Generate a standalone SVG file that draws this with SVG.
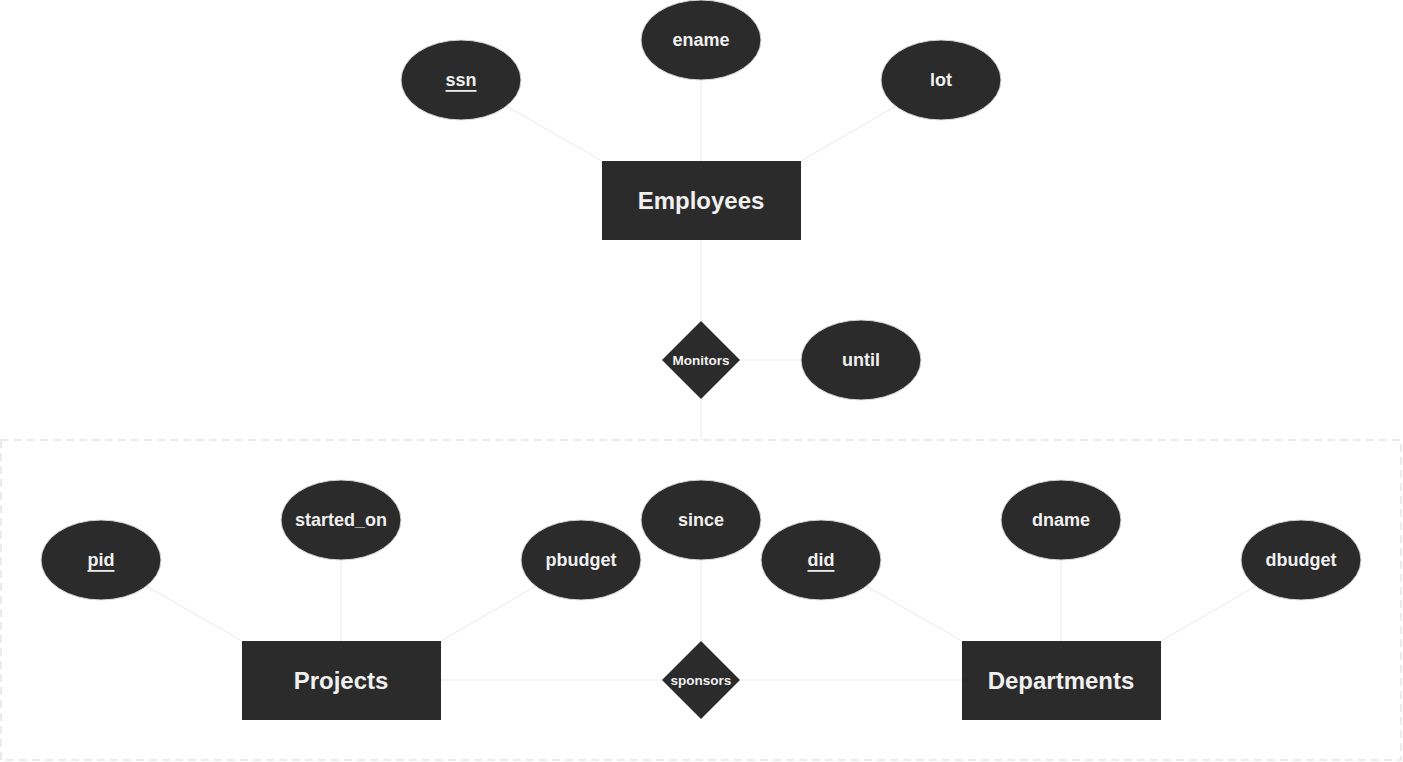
<svg xmlns="http://www.w3.org/2000/svg" width="1403" height="762" viewBox="0 0 1403 762">
<style>
.bg{fill:#ffffff}
.edge{stroke:#e9e9e9;stroke-width:1;fill:none}
.agg{fill:none;stroke:#ebebeb;stroke-width:2;stroke-dasharray:8 5}
.ent rect{fill:#2b2b2b}
.att ellipse{fill:#2b2b2b;stroke:#d6d6d6;stroke-width:1}
.rel polygon{fill:#2b2b2b}
text{font-family:"Liberation Sans",Arial,sans-serif;font-weight:bold;fill:#f0f0f0;text-anchor:middle;dominant-baseline:central}
.ent text{font-size:24px}
.att text{font-size:18px}
.rel text{font-size:13.5px}
.key{text-decoration:underline}
</style>
<rect class="bg" x="0" y="0" width="1403" height="762"/>
<rect class="agg" x="1" y="440" width="1400" height="320"/>
<g id="connectors">
<line class="edge" x1="461" y1="80" x2="602" y2="161"/>
<line class="edge" x1="701" y1="40" x2="701" y2="161"/>
<line class="edge" x1="941" y1="80" x2="801" y2="161"/>
<line class="edge" x1="701" y1="240" x2="701" y2="322"/>
<line class="edge" x1="701" y1="398" x2="701" y2="440"/>
<line class="edge" x1="740" y1="360" x2="861" y2="360"/>
<line class="edge" x1="101" y1="560" x2="242" y2="641"/>
<line class="edge" x1="341" y1="520" x2="341" y2="641"/>
<line class="edge" x1="581" y1="560" x2="441" y2="641"/>
<line class="edge" x1="701" y1="520" x2="701" y2="642"/>
<line class="edge" x1="441" y1="680" x2="962" y2="680"/>
<line class="edge" x1="821" y1="560" x2="962" y2="641"/>
<line class="edge" x1="1061" y1="520" x2="1061" y2="641"/>
<line class="edge" x1="1301" y1="560" x2="1161" y2="641"/>
</g>
<g id="ssn" class="att"><ellipse cx="461" cy="80" rx="60" ry="40"/><text x="461" y="80" class="key">ssn</text></g>
<g id="ename" class="att"><ellipse cx="701" cy="40" rx="60" ry="40"/><text x="701" y="40">ename</text></g>
<g id="lot" class="att"><ellipse cx="941" cy="80" rx="60" ry="40"/><text x="941" y="80">lot</text></g>
<g id="employees" class="ent"><rect x="602" y="161" width="199" height="79"/><text x="701" y="200">Employees</text></g>
<g id="monitors" class="rel"><polygon points="701,321 740,360 701,399 662,360"/><text x="701" y="360">Monitors</text></g>
<g id="until" class="att"><ellipse cx="861" cy="360" rx="60" ry="40"/><text x="861" y="360">until</text></g>
<g id="pid" class="att"><ellipse cx="101" cy="560" rx="60" ry="40"/><text x="101" y="560" class="key">pid</text></g>
<g id="started_on" class="att"><ellipse cx="341" cy="520" rx="60" ry="40"/><text x="341" y="520">started_on</text></g>
<g id="pbudget" class="att"><ellipse cx="581" cy="560" rx="60" ry="40"/><text x="581" y="560">pbudget</text></g>
<g id="since" class="att"><ellipse cx="701" cy="520" rx="60" ry="40"/><text x="701" y="520">since</text></g>
<g id="did" class="att"><ellipse cx="821" cy="560" rx="60" ry="40"/><text x="821" y="560" class="key">did</text></g>
<g id="dname" class="att"><ellipse cx="1061" cy="520" rx="60" ry="40"/><text x="1061" y="520">dname</text></g>
<g id="dbudget" class="att"><ellipse cx="1301" cy="560" rx="60" ry="40"/><text x="1301" y="560">dbudget</text></g>
<g id="projects" class="ent"><rect x="242" y="641" width="199" height="79"/><text x="341" y="680">Projects</text></g>
<g id="sponsors" class="rel"><polygon points="701,641 740,680 701,719 662,680"/><text x="701" y="680">sponsors</text></g>
<g id="departments" class="ent"><rect x="962" y="641" width="199" height="79"/><text x="1061" y="680">Departments</text></g>
</svg>
